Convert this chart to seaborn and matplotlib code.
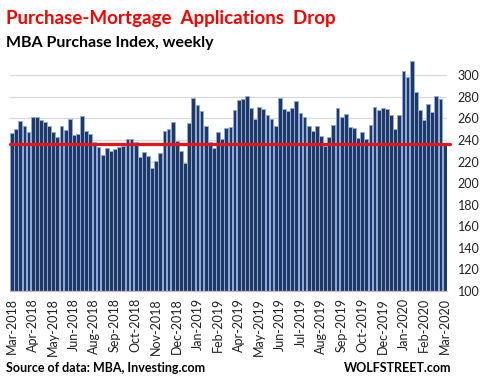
import pandas as pd
import matplotlib
matplotlib.use('Agg')
import matplotlib.pyplot as plt
import seaborn as sns

# MBA purchase index, weekly
weeks = pd.date_range('2018-03-14', periods=106, freq='7D')
purchase_index = [
    246.3, 250.0, 257.4, 252.8, 247.2, 261.7, 261.7, 258.3, 257.0, 252.8,
    247.2, 242.6, 252.8, 249.0, 259.2, 244.4, 245.4, 262.0, 248.1, 245.4,
    238.0, 233.3, 225.9, 232.4, 229.6, 231.5, 233.3, 234.8, 240.7, 240.7,
    238.0, 224.1, 228.7, 225.0, 213.9, 220.4, 227.8, 248.1, 250.0, 256.5,
    238.9, 229.6, 218.5, 255.6, 278.7, 272.2, 266.7, 252.8, 238.0, 232.4,
    247.2, 240.7, 250.9, 251.9, 267.6, 276.9, 277.8, 280.6, 269.4, 259.2,
    270.4, 268.5, 263.0, 259.2, 252.8, 278.7, 268.5, 266.7, 269.4, 275.9,
    264.8, 261.1, 252.8, 248.1, 252.8, 243.5, 234.3, 242.6, 253.7, 269.4,
    261.1, 263.9, 251.9, 250.9, 241.7, 247.2, 240.7, 253.7, 270.4, 267.6,
    269.4, 268.5, 263.0, 250.0, 263.0, 303.7, 298.1, 313.5, 284.3, 267.6,
    258.3, 273.1, 265.7, 280.6, 277.8, 236.0,
]
latest_level = 236.0
tick_labels = ['Mar-2018', 'Apr-2018', 'May-2018', 'Jun-2018', 'Aug-2018', 'Sep-2018',
               'Oct-2018', 'Nov-2018', 'Dec-2018', 'Jan-2019', 'Feb-2019', 'Apr-2019',
               'May-2019', 'Jun-2019', 'Jul-2019', 'Aug-2019', 'Sep-2019', 'Oct-2019',
               'Dec-2019', 'Jan-2020', 'Feb-2020', 'Mar-2020']
y_ticks = list(range(100, 301, 20))

data = pd.DataFrame({'week': weeks.strftime('%Y-%m-%d'), 'index': purchase_index})

sns.set_theme(style='white')
plt.rcParams['font.family'] = ['Lato', 'DejaVu Sans']

fig = plt.figure(figsize=(4.85, 3.88), dpi=100)
ax = fig.add_axes([0.0206, 0.25, 0.9004, 0.6005])

sns.barplot(data=data, x='week', y='index', ax=ax, color='#203864', saturation=1,
            width=0.92, edgecolor='#8FAADC', linewidth=0.7, zorder=2)

ax.axhline(latest_level, xmin=0, xmax=1.008, color='#E8141B', lw=2.3, zorder=3, clip_on=False)

ax.set_ylim(100, 316)
ax.set_xlim(-0.5, len(purchase_index) - 0.5)
ax.set_yticks(y_ticks)
ax.yaxis.tick_right()
ax.tick_params(axis='y', length=0, pad=8, labelsize=9, labelcolor='#222222')
ax.grid(axis='y', color='#D9D9D9', lw=0.9, zorder=0)
ax.set_axisbelow(True)

ax.set_xticks(range(0, len(purchase_index), 5))
ax.set_xticklabels(tick_labels, rotation=90, fontsize=9, color='#222222')
ax.tick_params(axis='x', length=0, pad=5)
ax.set_xlabel('')
ax.set_ylabel('')

for side in ['top', 'left', 'right']:
    ax.spines[side].set_visible(False)
ax.spines['bottom'].set_color('#BFBFBF')
ax.spines['bottom'].set_linewidth(0.9)

fig.text(0.012, 0.952, 'Purchase-Mortgage  Applications  Drop', color='#FF0000',
         fontsize=13.5, fontweight='bold', va='center', ha='left')
fig.text(0.012, 0.889, 'MBA Purchase Index, weekly', color='black',
         fontsize=11.5, fontweight='bold', va='center', ha='left')
fig.text(0.012, 0.052, 'Source of data: MBA, Investing.com', color='black',
         fontsize=9, fontweight='bold', va='center', ha='left')
fig.text(0.93, 0.052, 'WOLFSTREET.com', color='black',
         fontsize=9, fontweight='bold', va='center', ha='right')

fig.savefig('out.png', dpi=100)
